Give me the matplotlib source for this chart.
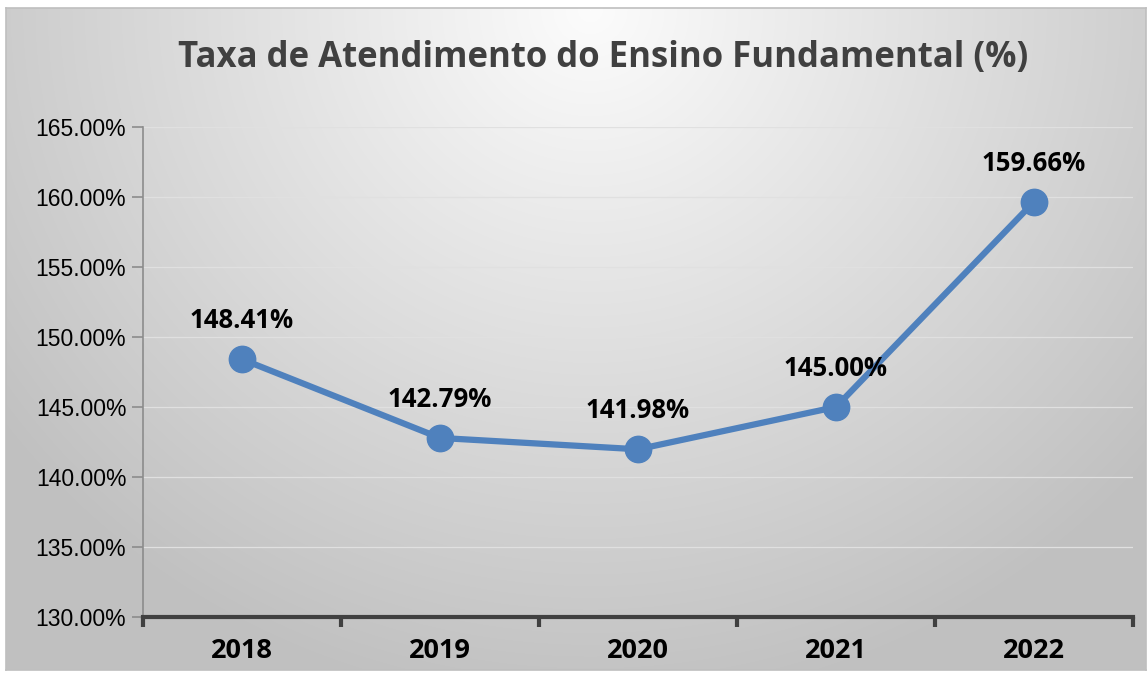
import numpy as np
import matplotlib
matplotlib.use("Agg")
import matplotlib.pyplot as plt
from matplotlib.ticker import FuncFormatter, FixedLocator

years = ["2018", "2019", "2020", "2021", "2022"]
values = [148.41, 142.79, 141.98, 145.00, 159.66]
labels = ["148.41%", "142.79%", "141.98%", "145.00%", "159.66%"]
title = "Taxa de Atendimento do Ensino Fundamental (%)"

W, H = 1147, 673
fig = plt.figure(figsize=(W / 100, H / 100), dpi=100, facecolor="white")

# background with radial gradient
bx0, by0, bx1, by1 = 6, 8, 1146, 670
bg = fig.add_axes([bx0 / W, 1 - by1 / H, (bx1 - bx0) / W, (by1 - by0) / H])
xs = np.arange(bx0, bx1)
ys = np.arange(by0, by1)
X, Y = np.meshgrid(xs, ys)
cx, cy = 590, 10
r = np.sqrt((X - cx) ** 2 + ((Y - cy) * 1.05) ** 2)
t = np.clip(r / 740.0, 0, 1)
g = (252 - t * (252 - 192)) / 255.0
img = np.dstack([g, g, g])
bg.imshow(img, aspect="auto", extent=[0, 1, 0, 1], origin="upper")
bg.set_xticks([])
bg.set_yticks([])
for s in bg.spines.values():
    s.set_color("#bfbfbf")
    s.set_linewidth(1.2)

# main axes
ax_l, ax_r, ax_t, ax_b = 143, 1133, 127, 617
ax = fig.add_axes([ax_l / W, 1 - ax_b / H, (ax_r - ax_l) / W, (ax_b - ax_t) / H])
ax.set_facecolor("none")
x = np.arange(len(years))
ax.plot(x, values, color="#4F81BD", linewidth=4.5, marker="o", markersize=19,
        markerfacecolor="#4F81BD", markeredgecolor="#4F81BD", zorder=3,
        solid_capstyle="round")
for xi, v, lab in zip(x, values, labels):
    ax.annotate(lab, (xi, v), xytext=(0, 18), textcoords="offset points",
                ha="center", va="bottom", fontsize=18.5, fontweight="bold",
                family="Open Sans", color="black")

ax.set_xlim(-0.5, len(years) - 0.5)
ax.set_ylim(130, 165)
ax.yaxis.set_major_locator(FixedLocator(np.arange(130, 166, 5)))
ax.yaxis.set_major_formatter(FuncFormatter(lambda v, p: f"{v:.2f}%"))
ax.grid(axis="y", color="#e0e0e0", linewidth=0.9, zorder=0)
ax.set_axisbelow(True)

ax.set_xticks(x)
ax.set_xticklabels(years, fontsize=19.5, fontweight="bold", family="Open Sans", color="black")
ax.set_xticks(np.arange(-0.5, len(years), 1.0), minor=True)
ax.tick_params(axis="x", which="major", length=0, pad=15)
ax.tick_params(axis="x", which="minor", length=7, width=3, color="#404040", direction="out")
for tl in ax.get_yticklabels():
    tl.set_fontsize(16.5)
    tl.set_family("Liberation Sans")
    tl.set_color("black")
ax.tick_params(axis="y", length=8, width=1.2, color="#8c8c8c", pad=4)

ax.spines["top"].set_visible(False)
ax.spines["right"].set_visible(False)
ax.spines["left"].set_color("#8c8c8c")
ax.spines["left"].set_linewidth(1.2)
ax.spines["bottom"].set_color("#404040")
ax.spines["bottom"].set_linewidth(3)

fig.text(603 / W, 1 - 58 / H, title, ha="center", va="center", fontsize=25,
         fontweight="bold", family="Open Sans", color="#404040")

fig.savefig("out.png", dpi=100, facecolor="white")
